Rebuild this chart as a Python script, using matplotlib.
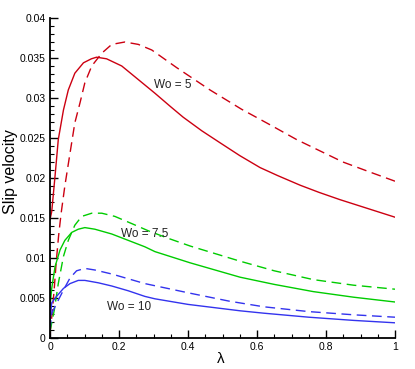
import matplotlib
matplotlib.use("Agg")
import matplotlib.pyplot as plt
from matplotlib.ticker import MultipleLocator, FuncFormatter

plt.rcParams['font.family'] = ['Liberation Sans', 'DejaVu Sans']

# Wo = 5
lam_r_solid = [0.0, 0.005, 0.0145, 0.024, 0.039, 0.053, 0.072, 0.097, 0.12, 0.135, 0.164, 0.208, 0.256,
               0.304, 0.35, 0.386, 0.44, 0.493, 0.55, 0.609, 0.66, 0.725, 0.78, 0.84, 0.92, 1.0]
v_r_solid = [0.0148, 0.0158, 0.0202, 0.0248, 0.0285, 0.0310, 0.0331, 0.0344, 0.0349, 0.0351, 0.0349, 0.0340, 0.0323,
             0.0306, 0.0289, 0.0276, 0.0259, 0.0244, 0.0228, 0.0213, 0.0203, 0.0191, 0.0182, 0.0173, 0.0162, 0.0151]
lam_r_dash = [0.0, 0.006, 0.012, 0.018, 0.025, 0.032, 0.043, 0.058, 0.072, 0.087, 0.101, 0.121, 0.15, 0.179,
              0.217, 0.256, 0.295, 0.367, 0.464, 0.555, 0.64, 0.715, 0.849, 0.93, 1.0]
v_r_dash = [0.0005, 0.0030, 0.0060, 0.0095, 0.0128, 0.0155, 0.0190, 0.0231, 0.0269, 0.0294, 0.0319, 0.0340, 0.0356, 0.0367,
            0.0370, 0.0367, 0.0360, 0.0338, 0.0310, 0.0286, 0.0266, 0.0248, 0.0220, 0.0207, 0.0196]

# Wo = 7.5
lam_g_solid = [0.0, 0.005, 0.0145, 0.029, 0.043, 0.063, 0.082, 0.101, 0.13, 0.179, 0.227, 0.275, 0.304,
               0.406, 0.551, 0.65, 0.763, 0.88, 1.0]
v_g_solid = [0.0040, 0.0062, 0.0089, 0.0110, 0.0122, 0.0132, 0.0136, 0.0138, 0.0136, 0.0130, 0.0122, 0.0114, 0.0108,
             0.0094, 0.0076, 0.0067, 0.0058, 0.0051, 0.0045]
lam_g_dash = [0.0, 0.0125, 0.024, 0.039, 0.053, 0.072, 0.092, 0.121, 0.15, 0.188, 0.237, 0.285, 0.34,
              0.406, 0.551, 0.65, 0.763, 0.88, 1.0]
v_g_dash = [0.0008, 0.0035, 0.0068, 0.0102, 0.0122, 0.0141, 0.0152, 0.0156, 0.0156, 0.0152, 0.0143, 0.0134, 0.0125,
            0.0115, 0.0096, 0.0084, 0.0073, 0.0066, 0.0061]

# Wo = 10
lam_b_solid = [0.0, 0.005, 0.019, 0.039, 0.058, 0.082, 0.101, 0.14, 0.179, 0.227, 0.275, 0.304,
               0.40, 0.551, 0.62, 0.75, 0.88, 1.0]
v_b_solid = [0.0020, 0.0044, 0.0052, 0.0062, 0.0068, 0.0072, 0.0072, 0.0069, 0.0065, 0.0059, 0.0052, 0.0049,
             0.0042, 0.0034, 0.0031, 0.0026, 0.0022, 0.0019]
lam_b_dash = [0.0, 0.005, 0.019, 0.039, 0.058, 0.077, 0.101, 0.13, 0.179, 0.227, 0.275,
              0.406, 0.52, 0.62, 0.75, 0.88, 1.0]
v_b_dash = [0.0010, 0.0031, 0.0043, 0.0060, 0.0075, 0.0084, 0.0087, 0.0085, 0.0080, 0.0074, 0.0068,
            0.0056, 0.0046, 0.0039, 0.0033, 0.0029, 0.0026]

labels = ["Wo = 5", "Wo = 7.5", "Wo = 10"]
label_pos = [(0.30, 0.0316), (0.205, 0.0130), (0.165, 0.0039)]

red, green, blue = '#cc0011', '#00cc00', '#3333ee'

W, H = 415, 369
fig = plt.figure(figsize=(W / 100, H / 100), dpi=100)
ax = fig.add_axes([50 / W, 31 / H, 345 / W, 320 / H])

lw = 1.0
dash = (7, 4)
ax.plot(lam_r_solid, v_r_solid, color=red, lw=lw)
ax.plot(lam_r_dash, v_r_dash, color=red, lw=lw, dashes=dash)
ax.plot(lam_g_solid, v_g_solid, color=green, lw=lw)
ax.plot(lam_g_dash, v_g_dash, color=green, lw=lw, dashes=dash)
ax.plot(lam_b_solid, v_b_solid, color=blue, lw=lw)
ax.plot(lam_b_dash, v_b_dash, color=blue, lw=lw, dashes=dash)

for t, (x, y) in zip(labels, label_pos):
    ax.text(x, y, t, fontsize=8.5, ha='left', va='center', color='#222222')

ax.set_xlim(0, 1)
ax.set_ylim(0, 0.04)
for s in ['top', 'right']:
    ax.spines[s].set_visible(False)
for s in ['left', 'bottom']:
    ax.spines[s].set_linewidth(1.3)

ax.xaxis.set_major_locator(MultipleLocator(0.2))
ax.xaxis.set_minor_locator(MultipleLocator(0.05))
ax.yaxis.set_major_locator(MultipleLocator(0.005))
ax.yaxis.set_minor_locator(MultipleLocator(0.001))
fmt = FuncFormatter(lambda v, p: '%g' % round(v, 6))
ax.xaxis.set_major_formatter(fmt)
ax.yaxis.set_major_formatter(fmt)
ax.tick_params(which='major', direction='in', length=6, width=1, labelsize=7.5, pad=3)
ax.tick_params(which='minor', direction='in', length=3, width=0.8)

fig.text(221 / W, 1 - 359 / H, 'λ', fontsize=11, ha='center', va='center')
fig.text(10 / W, 1 - 172 / H, 'Slip velocity', fontsize=11.5, rotation=90, ha='center', va='center')

fig.savefig('out.png', dpi=100)
